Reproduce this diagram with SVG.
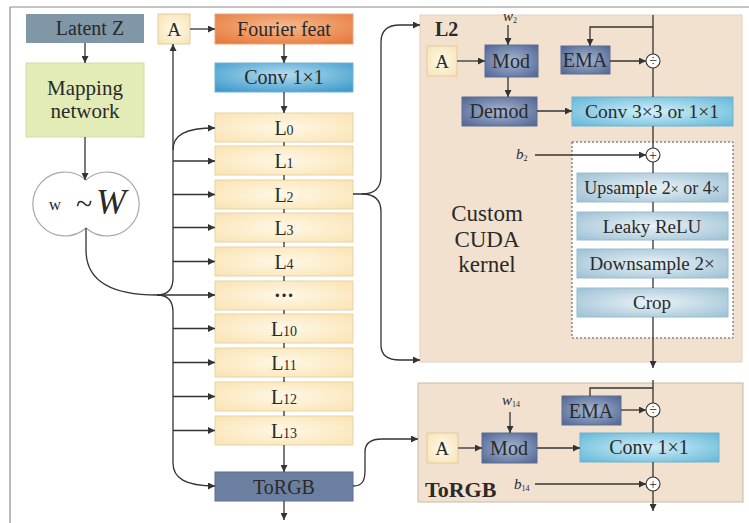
<svg xmlns="http://www.w3.org/2000/svg" width="749" height="523" viewBox="0 0 749 523">
<style>
text{font-family:"Liberation Serif","Times New Roman",serif;fill:#2a2a2a;}
.t20{font-size:20px;text-anchor:middle;}
.t19{font-size:19px;text-anchor:middle;}
.t18{font-size:18px;text-anchor:middle;}
.sub{font-size:14px;}
.c{fill:none;stroke:#333;stroke-width:1.3;}
.ca{fill:none;stroke:#333;stroke-width:1.3;marker-end:url(#ah);}
.op{fill:#fff;stroke:#333;stroke-width:1.1;}
</style>
<defs>
<marker id="ah" viewBox="0 0 10 10" refX="10" refY="5" markerWidth="9" markerHeight="7" markerUnits="userSpaceOnUse" orient="auto"><path d="M0,0 L10,5 L0,10 z" fill="#333"/></marker>
<radialGradient id="gA" cx="0.5" cy="0.5" r="0.7"><stop offset="0" stop-color="#fffaea"/><stop offset="1" stop-color="#f8e2b3"/></radialGradient>
<radialGradient id="gL" cx="0.5" cy="0.5" r="0.7"><stop offset="0" stop-color="#fff8e6"/><stop offset="1" stop-color="#fae3b2"/></radialGradient>
<radialGradient id="gF" cx="0.5" cy="0.4" r="0.7"><stop offset="0" stop-color="#f7b98e"/><stop offset="1" stop-color="#e67b3e"/></radialGradient>
<radialGradient id="gC" cx="0.5" cy="0.4" r="0.7"><stop offset="0" stop-color="#b3dcef"/><stop offset="1" stop-color="#3f9bcc"/></radialGradient>
<radialGradient id="gM" cx="0.5" cy="0.5" r="0.7"><stop offset="0" stop-color="#a8b7d2"/><stop offset="1" stop-color="#4e6491"/></radialGradient>
<radialGradient id="gK" cx="0.5" cy="0.5" r="0.7"><stop offset="0" stop-color="#d3eff8"/><stop offset="1" stop-color="#62b7d8"/></radialGradient>
<radialGradient id="gU" cx="0.5" cy="0.5" r="0.7"><stop offset="0" stop-color="#eaf3f7"/><stop offset="1" stop-color="#9cc0d4"/></radialGradient>
</defs>

<g id="frame"><path d="M10,7 H749 M10,7 V523" fill="none" stroke="#8a8a8a" stroke-width="1.2"/></g>

<g id="panel-L2"><rect x="420" y="15" width="322" height="347" fill="#f3e1cf" stroke="#e4cfbb"/>
<text x="435" y="36" style="font-size:20px;font-weight:bold;">L2</text>
<text x="487" y="213" class="t20" style="font-size:23px;"><tspan x="487" y="221">Custom</tspan><tspan x="487" y="247">CUDA</tspan><tspan x="487" y="272">kernel</tspan></text>
<rect x="572" y="142" width="161" height="196" fill="#fff" stroke="#555" stroke-width="1" stroke-dasharray="2,2"/>
</g>
<g id="panel-ToRGB"><rect x="418" y="383" width="325" height="119" fill="#f3e1cf" stroke="#c9b8a8"/>
<text x="425" y="497" style="font-size:22px;font-weight:bold;">ToRGB</text>
</g>

<g id="latent"><rect x="26" y="14" width="118" height="29" fill="#7f97a6"/><text x="90" y="35" class="t20">Latent Z</text></g>
<g id="mapping"><rect x="26" y="63" width="118" height="74" fill="#e3ecb7" stroke="#d3dca5"/><text x="85" y="95" class="t20" style="font-size:21px;">Mapping</text><text x="85" y="118" class="t20" style="font-size:21px;">network</text></g>
<g id="wW"><path d="M86,180 A32,32 0 1,0 86,228 A32,32 0 1,0 86,180 Z" fill="#fff" stroke="#a8a8a8" stroke-width="1.2"/>
<text x="55" y="210" class="t18" style="font-size:17px;">w</text><text x="84" y="214" class="t20" style="font-size:30px;">~</text><text x="111" y="214" class="t20" style="font-size:36px;font-style:italic;">W</text></g>
<g id="A0"><rect x="158" y="14" width="32" height="30" fill="url(#gA)" stroke="#e2cc9e"/><text x="174" y="36" class="t19">A</text></g>
<g id="fourier"><rect x="215" y="14" width="138" height="30" fill="url(#gF)" stroke="#e8a57c"/><text x="284" y="36" class="t20">Fourier feat</text></g>
<g id="conv1"><rect x="215" y="63" width="138" height="29" fill="url(#gC)" stroke="#6fb2d6"/><text x="284" y="84" class="t20">Conv 1×1</text></g>
<g id="L0"><rect x="215" y="113" width="138" height="29" fill="url(#gL)" stroke="#e8d3a5"/><text x="284" y="135" class="t20">L<tspan class="sub">0</tspan></text></g>
<g id="L1"><rect x="215" y="146" width="138" height="29" fill="url(#gL)" stroke="#e8d3a5"/><text x="284" y="168" class="t20">L<tspan class="sub">1</tspan></text></g>
<g id="L2"><rect x="215" y="180" width="138" height="29" fill="url(#gL)" stroke="#e8d3a5"/><text x="284" y="202" class="t20">L<tspan class="sub">2</tspan></text></g>
<g id="L3"><rect x="215" y="213" width="138" height="29" fill="url(#gL)" stroke="#e8d3a5"/><text x="284" y="235" class="t20">L<tspan class="sub">3</tspan></text></g>
<g id="L4"><rect x="215" y="247" width="138" height="29" fill="url(#gL)" stroke="#e8d3a5"/><text x="284" y="269" class="t20">L<tspan class="sub">4</tspan></text></g>
<g id="Ldots"><rect x="215" y="281" width="138" height="29" fill="url(#gL)" stroke="#e8d3a5"/><text x="284" y="302" class="t20" style="font-weight:bold;">···</text></g>
<g id="L10"><rect x="215" y="314" width="138" height="29" fill="url(#gL)" stroke="#e8d3a5"/><text x="284" y="336" class="t20">L<tspan class="sub">10</tspan></text></g>
<g id="L11"><rect x="215" y="348" width="138" height="29" fill="url(#gL)" stroke="#e8d3a5"/><text x="284" y="370" class="t20">L<tspan class="sub">11</tspan></text></g>
<g id="L12"><rect x="215" y="382" width="138" height="29" fill="url(#gL)" stroke="#e8d3a5"/><text x="284" y="404" class="t20">L<tspan class="sub">12</tspan></text></g>
<g id="L13"><rect x="215" y="416" width="138" height="29" fill="url(#gL)" stroke="#e8d3a5"/><text x="284" y="438" class="t20">L<tspan class="sub">13</tspan></text></g>
<g id="torgb"><rect x="215" y="472" width="138" height="29" fill="#6b80a1" stroke="#5d7192"/><text x="284" y="494" class="t20">ToRGB</text></g>

<g id="l2-A"><rect x="427" y="46" width="30" height="30" fill="url(#gA)" stroke="#e2cc9e"/><text x="442" y="68" class="t19">A</text></g>
<g id="l2-mod"><rect x="485" y="45" width="53" height="32" fill="url(#gM)" stroke="#5c6f98"/><text x="511" y="68" class="t20">Mod</text></g>
<g id="l2-demod"><rect x="462" y="97" width="75" height="29" fill="url(#gM)" stroke="#5c6f98"/><text x="499" y="118" class="t20">Demod</text></g>
<g id="l2-ema"><rect x="561" y="46" width="49" height="28" fill="url(#gM)" stroke="#5c6f98"/><text x="585" y="67" class="t20">EMA</text></g>
<g id="l2-conv"><rect x="572" y="97" width="161" height="29" fill="url(#gK)" stroke="#6cb3d2"/><text x="652" y="118" class="t20" style="font-size:19.5px;">Conv 3×3 or 1×1</text></g>
<g id="l2-div"><circle cx="653" cy="61" r="7" class="op"/><text x="653" y="66" class="t18" style="font-size:14px;">÷</text></g>
<g id="l2-add"><circle cx="653" cy="155" r="7" class="op"/><text x="653" y="160" class="t18" style="font-size:14px;">+</text></g>
<g id="l2-up"><rect x="577" y="173" width="151" height="29" fill="url(#gU)" stroke="#9bbcd0"/><text x="652" y="194" class="t18">Upsample 2<tspan style="font-size:14px;">×</tspan> or 4<tspan style="font-size:14px;">×</tspan></text></g>
<g id="l2-relu"><rect x="577" y="212" width="151" height="28" fill="url(#gU)" stroke="#9bbcd0"/><text x="652" y="233" class="t19">Leaky ReLU</text></g>
<g id="l2-down"><rect x="577" y="249" width="151" height="29" fill="url(#gU)" stroke="#9bbcd0"/><text x="652" y="270" class="t19">Downsample 2×</text></g>
<g id="l2-crop"><rect x="577" y="288" width="151" height="29" fill="url(#gU)" stroke="#9bbcd0"/><text x="652" y="309" class="t19">Crop</text></g>
<g id="l2-w"><text x="503" y="21" style="font-size:15px;font-style:italic;">w<tspan style="font-size:8px;font-style:normal;" dy="2">2</tspan></text></g>
<g id="l2-b"><text x="516" y="159" style="font-size:15px;font-style:italic;">b<tspan style="font-size:8px;font-style:normal;" dy="2">2</tspan></text></g>

<g id="t-A"><rect x="427" y="433" width="31" height="30" fill="url(#gA)" stroke="#e2cc9e"/><text x="442" y="455" class="t19">A</text></g>
<g id="t-mod"><rect x="482" y="433" width="55" height="30" fill="url(#gM)" stroke="#5c6f98"/><text x="509" y="455" class="t20">Mod</text></g>
<g id="t-ema"><rect x="562" y="396" width="59" height="29" fill="url(#gM)" stroke="#5c6f98"/><text x="591" y="418" class="t20">EMA</text></g>
<g id="t-conv"><rect x="580" y="433" width="139" height="29" fill="url(#gK)" stroke="#6cb3d2"/><text x="649" y="454" class="t20">Conv 1×1</text></g>
<g id="t-div"><circle cx="653" cy="410" r="7" class="op"/><text x="653" y="415" class="t18" style="font-size:14px;">÷</text></g>
<g id="t-add"><circle cx="653" cy="484" r="7" class="op"/><text x="653" y="489" class="t18" style="font-size:14px;">+</text></g>
<g id="t-w"><text x="502" y="405" style="font-size:15px;font-style:italic;">w<tspan style="font-size:8px;font-style:normal;" dy="2">14</tspan></text></g>
<g id="t-b"><text x="514" y="489" style="font-size:15px;font-style:italic;">b<tspan style="font-size:8px;font-style:normal;" dy="2">14</tspan></text></g>

<g id="connectors">
<path class="ca" d="M85,43 V63"/>
<path class="ca" d="M85,137 V180"/>
<path class="ca" d="M190,29 H215"/>
<path class="ca" d="M284,44 V63"/>
<path class="ca" d="M284,92 V113"/>
<path class="c" d="M284,142 V146 M284,175 V180 M284,209 V213 M284,242 V247 M284,276 V281 M284,310 V314 M284,343 V348 M284,377 V382 M284,411 V416"/>
<path class="ca" d="M284,445 V472"/>
<path class="ca" d="M284,501 V520"/>
<path class="ca" d="M86,228 V250 C86,280 110,295 157,295 H215"/>
<path class="ca" d="M157,295 C167,295 173,290 173,278 V44"/>
<path class="ca" d="M157,295 C167,295 173,300 173,312 V463 C173,478 185,486 215,486"/>
<path class="ca" d="M173,150 C173,135 185,128 215,128"/>
<path class="ca" d="M173,161 H215"/>
<path class="ca" d="M173,194.5 H215"/>
<path class="ca" d="M173,227.5 H215"/>
<path class="ca" d="M173,261.5 H215"/>
<path class="ca" d="M173,328.5 H215"/>
<path class="ca" d="M173,362.5 H215"/>
<path class="ca" d="M173,396.5 H215"/>
<path class="ca" d="M173,430.5 H215"/>
<path class="ca" d="M353,194 H362 C374,194 381,188 381,176 V42 C381,30 388,25 400,25 H420"/>
<path class="ca" d="M362,194 C374,194 381,200 381,212 V345 C381,355 388,360 400,360 H420"/>
<path class="ca" d="M353,486 C363,486 365,480 365,470 V452 C365,443 371,439 382,439 H418"/>
<path class="c" d="M653,15 V54 M653,68 V97"/>
<path class="ca" d="M653,27 H590 V46"/>
<path class="ca" d="M610,61 H646"/>
<path class="ca" d="M457,61 H485"/>
<path class="ca" d="M508,25 V45"/>
<path class="ca" d="M508,77 V97"/>
<path class="ca" d="M537,111 H572"/>
<path class="c" d="M653,126 V148 M653,162 V173 M653,202 V212 M653,240 V249 M653,278 V288"/>
<path class="ca" d="M535,155 H646"/>
<path class="ca" d="M653,317 V368"/>
<path class="c" d="M653,380 V403 M653,417 V433 M653,462 V477"/>
<path class="c" d="M653,388 H590 V396"/>
<path class="ca" d="M653,491 V511"/>
<path class="ca" d="M621,410 H646"/>
<path class="ca" d="M510,412 V433"/>
<path class="ca" d="M458,448 H482"/>
<path class="ca" d="M537,448 H580"/>
<path class="ca" d="M535,484 H646"/>
</g>
</svg>
